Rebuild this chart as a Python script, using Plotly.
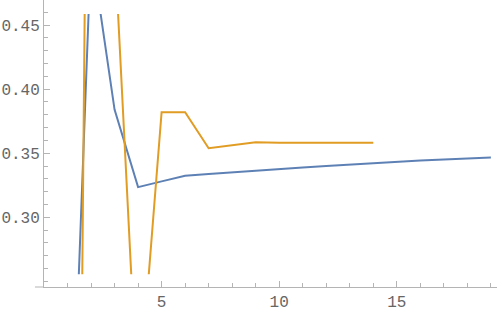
import plotly.graph_objects as go

# values
blue_x = list(range(1, 20))
blue_y = [0.02, 0.51, 0.384, 0.3235, 0.328, 0.3323, 0.3338, 0.3352, 0.3364, 0.3375,
          0.3388, 0.3400, 0.3412, 0.3424, 0.3434, 0.3443, 0.3451, 0.3459, 0.3466]

orange_x = list(range(1, 15))
orange_y = [-1.0, 1.0, 0.513, 0.15, 0.382, 0.382, 0.3539, 0.3562, 0.3585, 0.3582,
            0.3581, 0.3581, 0.3581, 0.3581]

x_ticks = [5, 10, 15]
y_ticks = [0.30, 0.35, 0.40, 0.45]

# axis extents (frame) and the clipped plot range (data)
x_range = [0, 19.26]
y_frame = [0.2456, 0.4695]
y_clip = [0.2555, 0.4586]

span = y_frame[1] - y_frame[0]
dom = [(y_clip[0] - y_frame[0]) / span, (y_clip[1] - y_frame[0]) / span]

axis_col = '#b4b4b4'
font_col = '#666666'
tick_font = dict(family='Liberation Mono', size=16, color=font_col)

fig = go.Figure()
# empty trace so the frame subplot exists
fig.add_trace(go.Scatter(x=[], y=[], xaxis='x', yaxis='y', hoverinfo='skip'))
# data on the clipped subplot
fig.add_trace(go.Scatter(x=blue_x, y=blue_y, mode='lines',
                         line=dict(color='#5E81B5', width=2), xaxis='x2', yaxis='y2'))
fig.add_trace(go.Scatter(x=orange_x, y=orange_y, mode='lines',
                         line=dict(color='#E19C24', width=2), xaxis='x2', yaxis='y2'))

# short stub of the x axis left of the y axis
fig.add_shape(type='line', xref='paper', yref='paper', x0=-0.02, x1=0, y0=0, y1=0,
              line=dict(color=axis_col, width=1))

fig.update_layout(
    template='none',
    width=500, height=309,
    margin=dict(l=44, r=3, t=0, b=22),
    paper_bgcolor='white', plot_bgcolor='rgba(255,255,255,0)',
    showlegend=False,
    xaxis=dict(range=x_range, domain=[0, 1], anchor='y',
               showline=True, linecolor=axis_col, linewidth=1,
               showgrid=False, zeroline=False,
               tickvals=x_ticks, ticks='inside', ticklen=6, tickcolor=axis_col,
               minor=dict(ticks='inside', ticklen=4, tick0=0, dtick=1, tickcolor=axis_col),
               tickfont=tick_font),
    yaxis=dict(range=y_frame, domain=[0, 1], anchor='x',
               showline=True, linecolor=axis_col, linewidth=1,
               showgrid=False, zeroline=False,
               tickvals=y_ticks, ticktext=['0.30', '0.35', '0.40', '0.45'],
               ticks='inside', ticklen=6, tickcolor=axis_col,
               minor=dict(ticks='inside', ticklen=4, tick0=0.25, dtick=0.01,
                          tickcolor=axis_col),
               tickfont=tick_font),
    xaxis2=dict(range=x_range, domain=[0, 1], anchor='y2', visible=False),
    yaxis2=dict(range=y_clip, domain=dom, anchor='x2', visible=False),
)

fig.write_html("out.html", config={'displayModeBar': False},
               post_script="document.body.style.margin='0px';")
